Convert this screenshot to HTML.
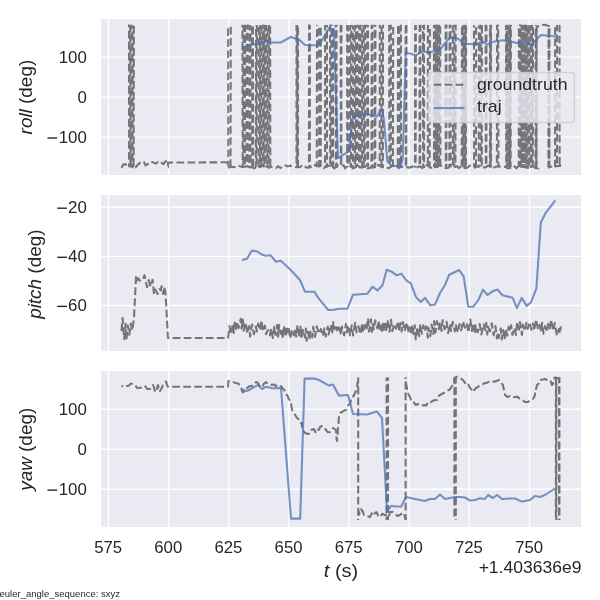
<!DOCTYPE html><html><head><meta charset="utf-8"><style>html,body{margin:0;padding:0;background:#fff;width:600px;height:600px;overflow:hidden}svg{display:block;will-change:transform}</style></head><body><svg width="600" height="600" viewBox="0 0 600 600">
<rect x="0" y="0" width="600" height="600" fill="#ffffff"/>
<rect x="101" y="19" width="480" height="156" fill="#EAEAF2"/>
<line x1="108.50" y1="19" x2="108.50" y2="175" stroke="#fff" stroke-width="1.39"/>
<line x1="168.64" y1="19" x2="168.64" y2="175" stroke="#fff" stroke-width="1.39"/>
<line x1="228.78" y1="19" x2="228.78" y2="175" stroke="#fff" stroke-width="1.39"/>
<line x1="288.93" y1="19" x2="288.93" y2="175" stroke="#fff" stroke-width="1.39"/>
<line x1="349.07" y1="19" x2="349.07" y2="175" stroke="#fff" stroke-width="1.39"/>
<line x1="409.21" y1="19" x2="409.21" y2="175" stroke="#fff" stroke-width="1.39"/>
<line x1="469.36" y1="19" x2="469.36" y2="175" stroke="#fff" stroke-width="1.39"/>
<line x1="529.50" y1="19" x2="529.50" y2="175" stroke="#fff" stroke-width="1.39"/>
<line x1="101" y1="57.10" x2="581" y2="57.10" stroke="#fff" stroke-width="1.39"/>
<line x1="101" y1="97.10" x2="581" y2="97.10" stroke="#fff" stroke-width="1.39"/>
<line x1="101" y1="137.10" x2="581" y2="137.10" stroke="#fff" stroke-width="1.39"/>
<clipPath id="c0"><rect x="101" y="19" width="480" height="156"/></clipPath>
<rect x="101" y="195" width="480" height="156" fill="#EAEAF2"/>
<line x1="108.50" y1="195" x2="108.50" y2="351" stroke="#fff" stroke-width="1.39"/>
<line x1="168.64" y1="195" x2="168.64" y2="351" stroke="#fff" stroke-width="1.39"/>
<line x1="228.78" y1="195" x2="228.78" y2="351" stroke="#fff" stroke-width="1.39"/>
<line x1="288.93" y1="195" x2="288.93" y2="351" stroke="#fff" stroke-width="1.39"/>
<line x1="349.07" y1="195" x2="349.07" y2="351" stroke="#fff" stroke-width="1.39"/>
<line x1="409.21" y1="195" x2="409.21" y2="351" stroke="#fff" stroke-width="1.39"/>
<line x1="469.36" y1="195" x2="469.36" y2="351" stroke="#fff" stroke-width="1.39"/>
<line x1="529.50" y1="195" x2="529.50" y2="351" stroke="#fff" stroke-width="1.39"/>
<line x1="101" y1="207.30" x2="581" y2="207.30" stroke="#fff" stroke-width="1.39"/>
<line x1="101" y1="256.40" x2="581" y2="256.40" stroke="#fff" stroke-width="1.39"/>
<line x1="101" y1="305.50" x2="581" y2="305.50" stroke="#fff" stroke-width="1.39"/>
<clipPath id="c1"><rect x="101" y="195" width="480" height="156"/></clipPath>
<rect x="101" y="371" width="480" height="156" fill="#EAEAF2"/>
<line x1="108.50" y1="371" x2="108.50" y2="527" stroke="#fff" stroke-width="1.39"/>
<line x1="168.64" y1="371" x2="168.64" y2="527" stroke="#fff" stroke-width="1.39"/>
<line x1="228.78" y1="371" x2="228.78" y2="527" stroke="#fff" stroke-width="1.39"/>
<line x1="288.93" y1="371" x2="288.93" y2="527" stroke="#fff" stroke-width="1.39"/>
<line x1="349.07" y1="371" x2="349.07" y2="527" stroke="#fff" stroke-width="1.39"/>
<line x1="409.21" y1="371" x2="409.21" y2="527" stroke="#fff" stroke-width="1.39"/>
<line x1="469.36" y1="371" x2="469.36" y2="527" stroke="#fff" stroke-width="1.39"/>
<line x1="529.50" y1="371" x2="529.50" y2="527" stroke="#fff" stroke-width="1.39"/>
<line x1="101" y1="409.20" x2="581" y2="409.20" stroke="#fff" stroke-width="1.39"/>
<line x1="101" y1="449.20" x2="581" y2="449.20" stroke="#fff" stroke-width="1.39"/>
<line x1="101" y1="489.20" x2="581" y2="489.20" stroke="#fff" stroke-width="1.39"/>
<clipPath id="c2"><rect x="101" y="371" width="480" height="156"/></clipPath>
<g opacity="0.5" stroke="#000" stroke-width="2.08" fill="none" clip-path="url(#c0)"><polyline points="121.50,168.00 123.12,164.68 125.17,164.13 127.06,165.27 128.34,165.78 129.59,165.33 130.88,163.66 132.63,166.81 133.99,163.96 136.01,167.03 137.96,164.36 140.43,162.55 142.74,163.42 144.13,162.52 145.73,165.50 147.17,164.31 149.20,163.18 151.11,161.60 152.39,162.12 154.47,162.92 156.08,163.48 157.87,162.02 160.10,163.60 161.62,162.90 163.50,164.07 165.65,161.22 168.00,165.14 168.00,162.60 226.80,162.30 229.14,167.50 230.94,166.51 232.52,167.17 235.55,166.82 238.80,165.86 241.69,166.90 244.35,166.39 247.53,168.20 249.98,167.16 251.60,167.30 254.39,168.37 257.54,165.75 259.81,167.17 261.35,166.41 263.19,165.13 264.81,167.54 266.57,165.62 268.85,167.92 270.51,166.36 273.11,167.97 276.25,167.90 278.30,166.24 280.52,167.97 283.94,165.26 285.79,165.56 287.76,166.49 290.43,165.67 291.94,166.25 294.18,166.80 297.59,167.25 300.12,166.99 302.97,164.90 306.27,167.59 309.52,167.65 311.80,166.18 313.51,167.05 315.13,164.95 317.05,165.30 319.23,164.89 320.73,165.26 322.44,166.05 323.99,167.94 326.71,165.25 328.72,165.99 330.95,165.15 334.15,168.37 336.58,166.49 338.25,165.08 340.43,165.68 343.59,165.30 345.14,168.22 347.69,165.24 350.28,164.80 352.84,168.32 356.06,167.28 358.09,166.06 359.92,167.56 362.49,167.58 364.64,165.53 367.77,168.34 370.97,167.68 374.11,167.44 376.06,166.62 378.27,164.81 379.83,165.73 381.85,167.26 385.26,166.35 388.64,168.36 392.05,166.05 393.99,165.54 395.88,165.46 398.63,168.03 401.81,166.47 404.61,167.66 406.28,167.14 409.60,167.59 412.60,166.47 414.46,167.62 416.63,167.66 420.07,166.16 422.37,168.20 425.32,165.33 427.08,165.26 430.39,167.68 432.18,167.76 435.64,167.13 437.84,166.73 439.60,164.75 443.04,167.10 445.60,168.15 447.96,167.93 451.12,165.48 453.12,165.78 455.10,166.87 457.12,166.25 458.88,168.07 461.09,166.40 463.76,168.05 466.10,168.10 468.60,166.67 471.15,164.77 473.53,165.38 475.04,167.66 476.88,166.45 479.83,166.76 481.98,166.62 484.59,167.60 486.31,166.77 488.30,165.72 491.35,166.58 493.97,167.51 497.30,166.34 500.02,166.57 502.55,167.26 504.95,166.67 507.41,168.18 510.30,167.94 513.69,165.66 516.31,168.19 519.49,165.21 521.23,166.34 522.88,165.59 524.52,167.18 527.59,168.02 529.40,167.35 532.22,165.23 535.49,168.28 537.42,168.22 536.30,167.20 536.60,27.50 538.00,26.50 541.00,25.20 545.00,24.80 548.80,26.00 549.20,167.20 551.30,166.50 554.28,167.78 556.02,166.30 558.30,165.95 560.09,165.88 560.80,164.77" fill="none" stroke-dasharray="7.7 3.33"/><line x1="129.02" y1="24.61" x2="129.10" y2="167.13" stroke-dasharray="7.7 3.33" stroke-dashoffset="4.86"/><line x1="130.25" y1="25.29" x2="130.54" y2="167.72" stroke-dasharray="7.7 3.33" stroke-dashoffset="0.71"/><line x1="131.34" y1="24.63" x2="131.20" y2="167.71" stroke-dasharray="7.7 3.33" stroke-dashoffset="2.93"/><line x1="132.60" y1="25.24" x2="132.46" y2="167.76" stroke-dasharray="7.7 3.33" stroke-dashoffset="4.66"/><line x1="133.86" y1="25.00" x2="133.61" y2="167.61" stroke-dasharray="7.7 3.33" stroke-dashoffset="10.14"/><line x1="228.12" y1="24.90" x2="228.39" y2="166.79" stroke-dasharray="7.7 3.33" stroke-dashoffset="7.59"/><line x1="230.75" y1="24.66" x2="230.49" y2="167.81" stroke-dasharray="7.7 3.33" stroke-dashoffset="8.84"/><line x1="242.45" y1="24.84" x2="242.70" y2="167.42" stroke-dasharray="7.7 3.33" stroke-dashoffset="5.01"/><line x1="243.63" y1="24.97" x2="243.40" y2="167.01" stroke-dasharray="7.7 3.33" stroke-dashoffset="1.43"/><line x1="245.01" y1="24.74" x2="244.90" y2="167.11" stroke-dasharray="7.7 3.33" stroke-dashoffset="0.56"/><line x1="246.68" y1="24.95" x2="246.59" y2="166.93" stroke-dasharray="7.7 3.33" stroke-dashoffset="3.20"/><line x1="247.81" y1="24.61" x2="247.84" y2="167.65" stroke-dasharray="7.7 3.33" stroke-dashoffset="2.76"/><line x1="249.65" y1="24.93" x2="249.41" y2="167.92" stroke-dasharray="7.7 3.33" stroke-dashoffset="2.09"/><line x1="250.45" y1="25.17" x2="250.45" y2="167.26" stroke-dasharray="7.7 3.33" stroke-dashoffset="2.69"/><line x1="252.15" y1="24.88" x2="252.26" y2="167.36" stroke-dasharray="7.7 3.33" stroke-dashoffset="9.21"/><line x1="252.95" y1="25.29" x2="253.15" y2="167.15" stroke-dasharray="7.7 3.33" stroke-dashoffset="9.81"/><line x1="256.08" y1="24.88" x2="255.82" y2="167.15" stroke-dasharray="7.7 3.33" stroke-dashoffset="7.01"/><line x1="256.85" y1="25.12" x2="256.65" y2="167.03" stroke-dasharray="7.7 3.33" stroke-dashoffset="0.78"/><line x1="258.83" y1="25.21" x2="258.70" y2="167.57" stroke-dasharray="7.7 3.33" stroke-dashoffset="9.28"/><line x1="260.12" y1="24.92" x2="260.09" y2="166.90" stroke-dasharray="7.7 3.33" stroke-dashoffset="3.23"/><line x1="261.35" y1="25.28" x2="261.20" y2="167.41" stroke-dasharray="7.7 3.33" stroke-dashoffset="10.61"/><line x1="262.85" y1="24.85" x2="262.78" y2="166.70" stroke-dasharray="7.7 3.33" stroke-dashoffset="3.41"/><line x1="263.88" y1="24.74" x2="263.58" y2="167.36" stroke-dasharray="7.7 3.33" stroke-dashoffset="5.55"/><line x1="265.02" y1="24.88" x2="264.73" y2="166.75" stroke-dasharray="7.7 3.33" stroke-dashoffset="0.99"/><line x1="266.26" y1="25.01" x2="266.41" y2="167.39" stroke-dasharray="7.7 3.33" stroke-dashoffset="2.57"/><line x1="267.62" y1="25.22" x2="267.51" y2="167.21" stroke-dasharray="7.7 3.33" stroke-dashoffset="7.90"/><line x1="268.97" y1="25.11" x2="268.70" y2="167.54" stroke-dasharray="7.7 3.33" stroke-dashoffset="1.65"/><line x1="270.13" y1="25.04" x2="270.32" y2="167.65" stroke-dasharray="7.7 3.33" stroke-dashoffset="9.84"/><line x1="296.50" y1="24.97" x2="296.50" y2="167.36" stroke-dasharray="7.7 3.33" stroke-dashoffset="1.54"/><line x1="297.25" y1="25.16" x2="297.25" y2="167.77" stroke-dasharray="7.7 3.33" stroke-dashoffset="5.24"/><line x1="298.00" y1="25.22" x2="298.00" y2="167.59" stroke-dasharray="7.7 3.33" stroke-dashoffset="8.94"/><line x1="309.05" y1="24.62" x2="308.97" y2="166.87" stroke-dasharray="7.7 3.33" stroke-dashoffset="2.54"/><line x1="309.85" y1="24.67" x2="309.89" y2="167.79" stroke-dasharray="7.7 3.33" stroke-dashoffset="3.14"/><line x1="317.05" y1="25.08" x2="316.75" y2="167.34" stroke-dasharray="7.7 3.33" stroke-dashoffset="6.91"/><line x1="319.12" y1="24.95" x2="319.21" y2="167.40" stroke-dasharray="7.7 3.33" stroke-dashoffset="8.25"/><line x1="320.83" y1="24.78" x2="320.69" y2="166.80" stroke-dasharray="7.7 3.33" stroke-dashoffset="8.13"/><line x1="325.09" y1="25.12" x2="325.09" y2="167.97" stroke-dasharray="7.7 3.33" stroke-dashoffset="2.26"/><line x1="326.95" y1="25.08" x2="327.02" y2="167.70" stroke-dasharray="7.7 3.33" stroke-dashoffset="5.28"/><line x1="330.06" y1="24.70" x2="330.20" y2="167.03" stroke-dasharray="7.7 3.33" stroke-dashoffset="0.85"/><line x1="331.42" y1="24.61" x2="331.28" y2="166.78" stroke-dasharray="7.7 3.33" stroke-dashoffset="6.26"/><line x1="333.07" y1="25.07" x2="333.08" y2="167.08" stroke-dasharray="7.7 3.33" stroke-dashoffset="7.63"/><line x1="335.65" y1="24.93" x2="335.89" y2="166.85" stroke-dasharray="7.7 3.33" stroke-dashoffset="5.13"/><line x1="336.45" y1="24.74" x2="336.71" y2="167.97" stroke-dasharray="7.7 3.33" stroke-dashoffset="5.73"/><line x1="340.65" y1="24.92" x2="340.93" y2="167.77" stroke-dasharray="7.7 3.33" stroke-dashoffset="0.19"/><line x1="341.45" y1="24.91" x2="341.28" y2="167.05" stroke-dasharray="7.7 3.33" stroke-dashoffset="0.79"/><line x1="347.18" y1="25.01" x2="347.19" y2="166.88" stroke-dasharray="7.7 3.33" stroke-dashoffset="2.32"/><line x1="348.18" y1="25.17" x2="348.41" y2="167.36" stroke-dasharray="7.7 3.33" stroke-dashoffset="1.46"/><line x1="350.08" y1="25.23" x2="349.80" y2="167.33" stroke-dasharray="7.7 3.33" stroke-dashoffset="2.55"/><line x1="351.30" y1="24.92" x2="351.09" y2="167.09" stroke-dasharray="7.7 3.33" stroke-dashoffset="5.42"/><line x1="352.94" y1="25.19" x2="353.09" y2="166.70" stroke-dasharray="7.7 3.33" stroke-dashoffset="3.49"/><line x1="354.64" y1="25.25" x2="354.88" y2="167.63" stroke-dasharray="7.7 3.33" stroke-dashoffset="1.32"/><line x1="355.92" y1="24.88" x2="355.97" y2="168.00" stroke-dasharray="7.7 3.33" stroke-dashoffset="4.11"/><line x1="357.44" y1="24.79" x2="357.21" y2="166.76" stroke-dasharray="7.7 3.33" stroke-dashoffset="4.72"/><line x1="359.13" y1="25.25" x2="358.99" y2="167.02" stroke-dasharray="7.7 3.33" stroke-dashoffset="3.15"/><line x1="360.50" y1="24.86" x2="360.73" y2="167.94" stroke-dasharray="7.7 3.33" stroke-dashoffset="2.09"/><line x1="362.12" y1="25.24" x2="362.15" y2="167.92" stroke-dasharray="7.7 3.33" stroke-dashoffset="6.96"/><line x1="363.59" y1="25.11" x2="363.74" y2="167.29" stroke-dasharray="7.7 3.33" stroke-dashoffset="0.55"/><line x1="365.06" y1="24.63" x2="364.83" y2="167.90" stroke-dasharray="7.7 3.33" stroke-dashoffset="3.16"/><line x1="367.15" y1="24.84" x2="367.29" y2="167.09" stroke-dasharray="7.7 3.33" stroke-dashoffset="5.21"/><line x1="367.95" y1="25.28" x2="368.04" y2="167.04" stroke-dasharray="7.7 3.33" stroke-dashoffset="5.81"/><line x1="371.65" y1="24.99" x2="371.45" y2="167.21" stroke-dasharray="7.7 3.33" stroke-dashoffset="3.32"/><line x1="372.45" y1="24.71" x2="372.69" y2="166.97" stroke-dasharray="7.7 3.33" stroke-dashoffset="3.92"/><line x1="374.65" y1="24.75" x2="374.95" y2="167.88" stroke-dasharray="7.7 3.33" stroke-dashoffset="5.48"/><line x1="375.45" y1="24.91" x2="375.27" y2="166.88" stroke-dasharray="7.7 3.33" stroke-dashoffset="6.08"/><line x1="379.84" y1="24.66" x2="379.69" y2="167.01" stroke-dasharray="7.7 3.33" stroke-dashoffset="3.77"/><line x1="381.53" y1="25.12" x2="381.48" y2="167.24" stroke-dasharray="7.7 3.33" stroke-dashoffset="9.79"/><line x1="383.01" y1="24.84" x2="382.88" y2="166.78" stroke-dasharray="7.7 3.33" stroke-dashoffset="4.16"/><line x1="389.19" y1="24.95" x2="389.40" y2="167.52" stroke-dasharray="7.7 3.33" stroke-dashoffset="1.39"/><line x1="390.89" y1="24.77" x2="390.85" y2="167.22" stroke-dasharray="7.7 3.33" stroke-dashoffset="2.99"/><line x1="393.18" y1="25.21" x2="392.90" y2="166.73" stroke-dasharray="7.7 3.33" stroke-dashoffset="9.36"/><line x1="398.08" y1="24.93" x2="397.78" y2="167.46" stroke-dasharray="7.7 3.33" stroke-dashoffset="9.88"/><line x1="399.46" y1="25.18" x2="399.74" y2="167.81" stroke-dasharray="7.7 3.33" stroke-dashoffset="10.22"/><line x1="400.90" y1="24.71" x2="401.01" y2="167.38" stroke-dasharray="7.7 3.33" stroke-dashoffset="1.20"/><line x1="405.65" y1="25.11" x2="405.81" y2="167.54" stroke-dasharray="7.7 3.33" stroke-dashoffset="10.38"/><line x1="406.45" y1="24.92" x2="406.17" y2="167.42" stroke-dasharray="7.7 3.33" stroke-dashoffset="10.98"/><line x1="415.11" y1="25.24" x2="415.00" y2="167.54" stroke-dasharray="7.7 3.33" stroke-dashoffset="2.57"/><line x1="415.85" y1="25.05" x2="415.62" y2="167.61" stroke-dasharray="7.7 3.33" stroke-dashoffset="2.78"/><line x1="419.65" y1="24.97" x2="419.58" y2="167.46" stroke-dasharray="7.7 3.33" stroke-dashoffset="0.78"/><line x1="420.45" y1="24.76" x2="420.16" y2="167.48" stroke-dasharray="7.7 3.33" stroke-dashoffset="1.38"/><line x1="422.92" y1="25.27" x2="423.15" y2="167.54" stroke-dasharray="7.7 3.33" stroke-dashoffset="5.08"/><line x1="423.99" y1="24.77" x2="424.11" y2="167.95" stroke-dasharray="7.7 3.33" stroke-dashoffset="2.59"/><line x1="427.92" y1="24.95" x2="427.87" y2="167.58" stroke-dasharray="7.7 3.33" stroke-dashoffset="0.24"/><line x1="429.90" y1="25.25" x2="429.62" y2="166.99" stroke-dasharray="7.7 3.33" stroke-dashoffset="7.36"/><line x1="433.94" y1="25.08" x2="434.11" y2="166.96" stroke-dasharray="7.7 3.33" stroke-dashoffset="4.64"/><line x1="435.10" y1="24.74" x2="434.98" y2="167.96" stroke-dasharray="7.7 3.33" stroke-dashoffset="5.57"/><line x1="436.13" y1="24.76" x2="436.00" y2="167.69" stroke-dasharray="7.7 3.33" stroke-dashoffset="2.55"/><line x1="437.18" y1="24.73" x2="437.13" y2="166.99" stroke-dasharray="7.7 3.33" stroke-dashoffset="5.47"/><line x1="438.07" y1="24.70" x2="437.89" y2="167.21" stroke-dasharray="7.7 3.33" stroke-dashoffset="10.46"/><line x1="439.19" y1="24.64" x2="439.13" y2="166.78" stroke-dasharray="7.7 3.33" stroke-dashoffset="1.57"/><line x1="440.16" y1="25.11" x2="440.42" y2="168.00" stroke-dasharray="7.7 3.33" stroke-dashoffset="9.75"/><line x1="445.65" y1="24.73" x2="445.80" y2="167.92" stroke-dasharray="7.7 3.33" stroke-dashoffset="3.63"/><line x1="446.45" y1="24.62" x2="446.38" y2="167.56" stroke-dasharray="7.7 3.33" stroke-dashoffset="4.23"/><line x1="449.65" y1="24.83" x2="449.35" y2="166.92" stroke-dasharray="7.7 3.33" stroke-dashoffset="4.12"/><line x1="450.45" y1="24.80" x2="450.72" y2="167.16" stroke-dasharray="7.7 3.33" stroke-dashoffset="4.72"/><line x1="452.85" y1="24.75" x2="453.04" y2="167.16" stroke-dasharray="7.7 3.33" stroke-dashoffset="10.64"/><line x1="454.38" y1="24.63" x2="454.30" y2="167.32" stroke-dasharray="7.7 3.33" stroke-dashoffset="4.77"/><line x1="455.67" y1="24.85" x2="455.39" y2="167.87" stroke-dasharray="7.7 3.33" stroke-dashoffset="2.13"/><line x1="461.96" y1="25.14" x2="461.69" y2="166.75" stroke-dasharray="7.7 3.33" stroke-dashoffset="8.95"/><line x1="462.63" y1="24.78" x2="462.86" y2="167.67" stroke-dasharray="7.7 3.33" stroke-dashoffset="10.15"/><line x1="463.54" y1="25.27" x2="463.39" y2="167.50" stroke-dasharray="7.7 3.33" stroke-dashoffset="3.00"/><line x1="464.49" y1="24.79" x2="464.64" y2="166.70" stroke-dasharray="7.7 3.33" stroke-dashoffset="3.49"/><line x1="465.37" y1="25.26" x2="465.21" y2="166.73" stroke-dasharray="7.7 3.33" stroke-dashoffset="6.99"/><line x1="465.99" y1="25.27" x2="465.84" y2="167.20" stroke-dasharray="7.7 3.33" stroke-dashoffset="10.55"/><line x1="473.97" y1="25.25" x2="474.15" y2="166.94" stroke-dasharray="7.7 3.33" stroke-dashoffset="5.44"/><line x1="476.10" y1="25.14" x2="475.99" y2="167.49" stroke-dasharray="7.7 3.33" stroke-dashoffset="9.07"/><line x1="478.93" y1="25.15" x2="478.75" y2="166.80" stroke-dasharray="7.7 3.33" stroke-dashoffset="3.99"/><line x1="480.60" y1="24.65" x2="480.63" y2="166.74" stroke-dasharray="7.7 3.33" stroke-dashoffset="2.73"/><line x1="481.93" y1="25.22" x2="481.79" y2="167.98" stroke-dasharray="7.7 3.33" stroke-dashoffset="10.81"/><line x1="485.65" y1="24.67" x2="485.78" y2="167.35" stroke-dasharray="7.7 3.33" stroke-dashoffset="0.93"/><line x1="486.45" y1="24.91" x2="486.40" y2="167.00" stroke-dasharray="7.7 3.33" stroke-dashoffset="1.53"/><line x1="490.00" y1="25.07" x2="490.00" y2="167.67" stroke-dasharray="7.7 3.33" stroke-dashoffset="6.84"/><line x1="490.50" y1="25.07" x2="490.50" y2="166.86" stroke-dasharray="7.7 3.33" stroke-dashoffset="10.54"/><line x1="491.00" y1="24.81" x2="491.00" y2="167.44" stroke-dasharray="7.7 3.33" stroke-dashoffset="14.24"/><line x1="497.10" y1="24.77" x2="496.89" y2="167.02" stroke-dasharray="7.7 3.33" stroke-dashoffset="2.20"/><line x1="498.15" y1="24.83" x2="498.45" y2="167.21" stroke-dasharray="7.7 3.33" stroke-dashoffset="6.38"/><line x1="506.00" y1="25.17" x2="506.30" y2="167.55" stroke-dasharray="7.7 3.33" stroke-dashoffset="2.55"/><line x1="506.67" y1="25.17" x2="506.92" y2="167.79" stroke-dasharray="7.7 3.33" stroke-dashoffset="5.24"/><line x1="507.48" y1="24.68" x2="507.77" y2="166.95" stroke-dasharray="7.7 3.33" stroke-dashoffset="3.24"/><line x1="508.53" y1="24.86" x2="508.50" y2="167.83" stroke-dasharray="7.7 3.33" stroke-dashoffset="10.26"/><line x1="509.24" y1="25.26" x2="509.30" y2="166.84" stroke-dasharray="7.7 3.33" stroke-dashoffset="8.58"/><line x1="510.21" y1="24.86" x2="510.04" y2="166.88" stroke-dasharray="7.7 3.33" stroke-dashoffset="2.40"/><line x1="510.90" y1="25.06" x2="510.61" y2="166.96" stroke-dasharray="7.7 3.33" stroke-dashoffset="6.61"/><line x1="518.93" y1="24.73" x2="518.75" y2="167.11" stroke-dasharray="7.7 3.33" stroke-dashoffset="7.48"/><line x1="519.99" y1="24.64" x2="519.93" y2="166.83" stroke-dasharray="7.7 3.33" stroke-dashoffset="6.04"/><line x1="520.77" y1="24.66" x2="520.89" y2="166.91" stroke-dasharray="7.7 3.33" stroke-dashoffset="7.05"/><line x1="521.59" y1="24.82" x2="521.48" y2="167.94" stroke-dasharray="7.7 3.33" stroke-dashoffset="3.12"/><line x1="522.53" y1="24.89" x2="522.82" y2="167.82" stroke-dasharray="7.7 3.33" stroke-dashoffset="3.94"/><line x1="523.32" y1="25.11" x2="523.02" y2="166.96" stroke-dasharray="7.7 3.33" stroke-dashoffset="2.18"/><line x1="524.41" y1="25.17" x2="524.64" y2="167.23" stroke-dasharray="7.7 3.33" stroke-dashoffset="4.67"/><line x1="525.11" y1="24.61" x2="525.19" y2="167.42" stroke-dasharray="7.7 3.33" stroke-dashoffset="1.79"/><line x1="526.16" y1="25.04" x2="526.17" y2="167.18" stroke-dasharray="7.7 3.33" stroke-dashoffset="0.98"/><line x1="526.73" y1="24.96" x2="526.50" y2="167.90" stroke-dasharray="7.7 3.33" stroke-dashoffset="3.12"/><line x1="527.75" y1="25.28" x2="527.52" y2="166.96" stroke-dasharray="7.7 3.33" stroke-dashoffset="8.88"/><line x1="528.80" y1="24.94" x2="529.06" y2="166.77" stroke-dasharray="7.7 3.33" stroke-dashoffset="10.76"/><line x1="529.46" y1="25.03" x2="529.25" y2="167.77" stroke-dasharray="7.7 3.33" stroke-dashoffset="9.97"/><line x1="530.49" y1="24.88" x2="530.69" y2="167.80" stroke-dasharray="7.7 3.33" stroke-dashoffset="2.45"/><line x1="531.12" y1="24.88" x2="531.05" y2="167.37" stroke-dasharray="7.7 3.33" stroke-dashoffset="2.41"/><line x1="531.97" y1="25.11" x2="531.70" y2="167.87" stroke-dasharray="7.7 3.33" stroke-dashoffset="2.73"/><line x1="533.02" y1="24.63" x2="532.80" y2="167.79" stroke-dasharray="7.7 3.33" stroke-dashoffset="8.35"/><line x1="535.65" y1="24.99" x2="535.53" y2="167.52" stroke-dasharray="7.7 3.33" stroke-dashoffset="6.61"/><line x1="536.45" y1="24.89" x2="536.41" y2="167.46" stroke-dasharray="7.7 3.33" stroke-dashoffset="7.21"/><line x1="548.65" y1="24.91" x2="548.36" y2="167.27" stroke-dasharray="7.7 3.33" stroke-dashoffset="7.27"/><line x1="549.45" y1="25.03" x2="549.29" y2="167.34" stroke-dasharray="7.7 3.33" stroke-dashoffset="7.87"/><line x1="555.11" y1="24.92" x2="555.09" y2="166.93" stroke-dasharray="7.7 3.33" stroke-dashoffset="8.60"/><line x1="557.09" y1="24.90" x2="557.06" y2="166.82" stroke-dasharray="7.7 3.33" stroke-dashoffset="1.42"/><line x1="559.50" y1="25.05" x2="559.64" y2="166.81" stroke-dasharray="7.7 3.33" stroke-dashoffset="0.45"/></g>
<polyline points="241.70,49.70 251.70,43.30 255.80,44.70 264.20,41.30 270.80,42.50 280.80,42.50 290.80,37.00 299.20,39.70 305.00,45.00 316.70,45.30 321.70,40.80 329.20,28.00 333.90,29.30 338.00,158.00 348.70,151.30 352.70,117.30 367.30,114.00 376.70,116.70 381.70,109.00 384.00,120.00 387.30,161.30 392.00,166.00 400.70,166.00 402.70,158.70 405.80,52.50 415.80,55.30 421.70,51.30 429.20,52.50 440.00,49.20 450.00,37.50 458.30,38.70 464.20,43.80 476.70,44.20 482.50,41.30 487.50,44.70 493.30,41.70 502.50,40.30 511.70,41.70 517.00,43.00 521.00,41.50 531.00,44.50 541.00,35.00 556.00,36.50" fill="none" stroke="#4C72B0" stroke-opacity="0.75" stroke-width="2.08" stroke-linejoin="round" stroke-linecap="butt" clip-path="url(#c0)"/>
<polyline points="121.50,331.00 122.60,318.13 124.20,339.24 125.56,323.90 126.32,340.00 127.88,325.58 129.29,334.82 130.68,323.61 132.21,330.50 134.00,318.00 136.00,277.00 136.50,281.00 138.27,278.07 139.61,280.66 141.27,279.58 142.94,279.80 144.48,275.14 147.00,287.12 148.73,280.12 150.54,286.76 152.61,279.79 153.99,294.00 155.50,289.68 157.61,294.00 159.43,289.15 160.73,290.27 161.58,286.29 163.21,294.00 164.22,286.84 165.50,293.00 168.00,338.00 228.00,338.00 228.50,335.37 229.41,326.14 231.04,334.33 232.73,324.10 233.84,332.95 234.74,322.60 236.09,328.99 236.86,321.59 238.58,328.13 240.73,318.78 241.55,328.70 242.91,319.66 243.68,330.81 245.84,322.78 247.35,333.50 249.32,326.07 250.14,336.63 252.07,324.63 253.93,334.17 255.80,326.49 256.89,331.47 258.15,323.57 259.96,330.08 261.55,320.38 262.69,331.40 264.89,325.64 266.03,334.18 267.90,329.96 269.97,335.36 271.08,328.34 272.82,338.01 274.28,326.76 275.68,335.30 277.29,324.80 278.16,336.69 279.12,325.01 280.39,333.66 281.18,328.37 282.98,338.58 283.83,325.76 285.81,336.33 286.66,326.35 287.57,332.40 288.48,326.89 290.19,338.45 291.88,329.70 293.77,335.30 295.00,328.57 296.17,336.72 297.47,325.19 299.50,337.93 300.30,325.69 301.57,336.95 303.12,329.75 305.10,337.57 305.86,328.44 306.61,340.81 308.10,331.66 309.37,339.66 310.51,331.56 312.31,337.51 313.23,326.76 315.02,336.91 316.71,326.35 318.80,333.63 320.88,328.94 322.98,336.10 324.30,328.34 325.85,336.56 327.73,326.59 328.71,334.56 330.46,324.88 332.37,332.54 333.30,321.92 334.34,329.74 336.15,324.74 337.27,330.38 338.80,325.27 341.01,334.77 341.92,326.53 344.14,335.51 345.99,324.05 346.90,332.30 348.24,325.46 350.03,335.35 351.72,325.32 353.08,335.46 355.19,322.80 356.57,332.24 358.41,326.16 360.44,334.18 362.15,323.06 363.05,332.36 364.97,325.05 366.35,330.17 368.04,318.45 369.06,331.58 370.98,319.28 371.79,331.85 372.78,324.18 373.68,329.48 375.24,320.36 377.23,328.31 378.60,320.79 379.94,331.47 380.87,325.85 382.03,331.89 382.80,321.75 384.08,331.24 385.17,323.75 386.25,330.11 387.58,319.98 389.55,331.72 391.00,319.88 392.28,331.13 394.26,324.20 395.83,328.66 397.83,321.57 399.15,331.02 400.54,322.97 401.71,331.57 402.91,322.13 404.65,331.17 406.79,322.48 408.90,333.47 409.86,327.28 410.63,333.63 412.36,325.07 413.46,334.17 414.73,325.25 415.74,339.44 417.40,327.30 419.33,336.18 420.38,324.26 421.78,333.69 423.37,325.30 424.86,331.51 426.31,326.25 427.87,337.67 428.63,327.91 430.37,336.24 431.69,324.48 433.39,334.01 434.19,321.16 435.43,332.54 436.95,321.13 438.77,329.30 440.03,322.13 441.57,331.02 442.64,320.14 444.63,329.29 446.62,321.79 448.13,333.12 449.86,324.13 451.06,331.05 452.76,321.75 454.84,331.35 455.66,324.44 457.80,332.48 459.53,324.14 461.21,330.36 463.00,321.25 464.75,327.62 466.65,323.17 468.56,332.63 470.29,319.42 471.89,330.94 473.09,322.92 474.80,334.09 475.63,325.23 477.60,332.37 479.73,324.09 481.36,334.36 483.59,324.30 485.30,330.30 486.28,322.80 487.21,334.47 488.10,326.87 489.92,331.43 491.77,323.27 493.59,335.17 495.44,326.12 496.88,338.36 498.01,332.24 498.78,337.88 500.76,328.39 501.76,339.57 503.24,329.93 504.65,339.34 505.61,329.15 507.31,335.75 508.64,326.89 510.24,331.50 511.08,325.16 512.33,334.97 514.54,327.85 515.93,335.05 517.25,322.23 519.21,329.69 519.96,322.15 521.94,334.84 522.75,324.52 524.36,330.94 526.39,322.75 527.66,329.01 529.24,322.05 531.38,329.72 533.04,323.45 534.18,330.57 536.11,319.56 538.02,329.01 539.64,324.86 541.11,331.85 542.14,322.78 543.43,333.62 544.79,326.11 547.03,332.00 547.94,323.97 549.59,328.49 551.12,319.61 553.17,330.80 554.77,322.98 556.94,335.47 558.92,329.02 559.97,333.39 560.84,326.48" fill="none" stroke="#000000" stroke-opacity="0.5" stroke-width="2.08" stroke-linejoin="round" stroke-linecap="butt" stroke-dasharray="7.7 3.33" clip-path="url(#c1)"/>
<polyline points="242.00,260.00 247.00,258.80 251.70,250.80 256.70,251.20 261.70,254.50 265.80,255.80 270.80,255.30 275.80,261.70 280.80,260.80 290.00,269.20 300.00,280.00 305.00,291.70 314.20,291.70 319.20,299.20 328.30,310.00 334.20,309.70 338.30,308.70 347.50,308.70 353.00,294.70 367.50,293.70 372.50,286.70 377.50,290.50 382.50,285.30 386.70,269.70 391.70,271.70 396.70,275.30 401.30,273.70 406.30,280.30 410.80,283.30 415.80,296.70 420.80,302.00 425.00,297.80 430.30,305.30 435.00,304.50 440.00,293.00 445.00,285.00 449.20,274.70 459.20,270.00 463.70,276.70 468.30,306.70 473.30,306.70 478.30,300.00 483.00,289.70 487.50,295.00 492.50,291.30 497.50,289.50 502.50,295.30 512.60,297.70 516.90,308.10 521.70,297.90 526.70,305.90 531.00,302.20 536.40,288.60 540.80,222.50 545.70,212.80 555.30,200.40" fill="none" stroke="#4C72B0" stroke-opacity="0.75" stroke-width="2.08" stroke-linejoin="round" stroke-linecap="butt" clip-path="url(#c1)"/>
<g opacity="0.5" stroke="#000" stroke-width="2.08" fill="none" stroke-linejoin="round" clip-path="url(#c2)"><polyline points="121.50,385.80 124.52,387.21 127.00,386.00 128.74,385.65 130.94,383.45 133.00,384.00 135.28,385.22 137.00,388.00 139.04,387.95 141.27,387.54 142.94,386.33 145.00,386.00 147.30,388.99 150.00,389.00 151.80,386.11 153.00,385.00 153.72,386.55 154.91,390.96 156.00,392.00 156.91,390.75 157.06,388.25 158.00,385.00 158.79,387.47 159.62,387.58 160.00,391.00 160.79,389.48 162.26,386.90 163.00,384.00 166.00,381.50 166.88,384.39 168.00,386.70 228.00,386.70 228.40,382.59 228.50,381.00 232.00,381.00 235.00,383.00 237.39,383.22 240.00,385.00 240.52,386.82 241.30,387.91 242.04,391.19 243.00,392.50 244.04,391.70 245.48,388.02 247.00,388.00 249.76,386.11 252.00,386.00 254.26,385.17 256.00,382.00 257.57,382.51 258.64,384.04 260.00,387.00 262.26,386.43 264.08,383.51 266.00,382.00 267.90,384.03 269.99,384.41 272.00,385.00 273.79,384.36 275.73,386.18 278.03,384.61 280.00,386.00 281.72,386.75 283.00,389.00 284.28,389.90 285.53,394.09 287.00,395.00 287.65,395.94 288.49,398.42 289.49,399.77 290.00,403.00 291.04,403.83 291.74,408.04 292.08,409.68 293.00,412.00 294.21,413.22 295.49,415.57 297.00,418.00 300.00,420.00 301.04,423.59 301.76,422.71 302.12,427.27 303.00,428.00 303.73,431.22 305.00,433.00 308.00,434.00 309.38,433.53 311.00,430.00 314.00,429.00 315.21,431.98 317.00,433.00 317.90,429.85 318.70,430.06 320.00,427.00 322.00,426.00 324.02,426.99 326.00,430.00 327.96,432.32 330.00,432.00 331.33,430.23 333.00,428.00 336.00,430.00 335.98,431.18 336.56,435.08 336.42,435.25 336.55,439.15 337.00,441.00 337.16,438.19 337.16,437.19 337.62,435.75 337.72,431.71 337.57,431.33 337.94,429.21 337.90,427.41 338.23,425.43 338.72,422.23 338.38,421.48 338.82,419.27 339.00,416.00 340.36,413.00 342.00,412.00 344.20,410.57 346.00,410.00 347.13,407.59 348.72,404.41 350.00,404.00 350.68,401.49 351.34,398.12 352.00,397.00 353.63,396.01 355.00,393.00 356.22,389.93 357.00,388.00 357.33,385.52 357.55,382.40 357.82,383.15 357.80,379.64 358.00,377.50" stroke-dasharray="7.7 3.33" stroke-dashoffset="5.84"/><polyline points="358.00,520.00 358.42,515.12 359.08,514.34 359.01,511.62 359.45,513.90 360.00,510.00 361.05,509.25 362.79,511.50 364.00,515.00 365.71,516.26 368.05,516.47 370.00,517.00 371.79,513.28 373.56,515.64 375.00,513.00 376.39,512.07 378.33,515.67 380.00,517.00 382.37,513.73 385.00,515.00 386.09,515.32 387.30,520.00" stroke-dasharray="7.7 3.33" stroke-dashoffset="6.51"/><polyline points="387.30,520.00 388.19,515.88 388.69,517.48 389.12,515.96 390.00,512.00 392.76,511.83 395.00,513.00 397.45,516.04 400.00,515.00 402.02,513.37 404.00,513.00 404.80,516.99 404.97,516.11 405.60,520.00" stroke-dasharray="7.7 3.33" stroke-dashoffset="3.69"/><polyline points="405.60,377.50 405.76,381.79 406.00,383.00 406.58,386.32 406.99,388.11 406.93,389.06 407.87,392.39 408.00,393.00 408.85,395.08 410.08,397.23 411.00,400.00 412.69,400.29 414.29,403.35 416.00,405.00 417.71,403.85 420.28,405.89 422.26,405.43 424.00,405.00 426.19,405.56 428.23,402.18 430.00,403.00 432.08,401.25 434.11,400.27 436.00,400.00 437.36,399.69 438.74,395.87 440.00,395.00 442.01,393.79 444.00,393.00 446.77,390.82 449.00,390.00 450.22,388.81 451.44,386.97 453.00,385.00 453.94,382.54 454.19,379.89 455.00,377.50 457.52,376.62 460.00,378.00 463.00,380.00 465.00,383.00 467.00,382.00 467.77,382.82 468.88,385.70 470.00,388.00 471.37,389.18 473.00,392.00 474.25,390.15 476.00,388.00 478.20,386.85 480.00,385.00 482.54,384.48 485.00,383.00 487.32,382.67 490.00,381.00 492.48,381.45 495.00,381.60 497.07,380.70 499.00,380.00 500.22,380.84 501.50,383.37 503.00,385.00 503.33,387.27 503.51,388.53 504.42,390.16 504.63,392.97 505.00,395.00 507.37,397.06 510.00,396.00 512.38,397.37 515.00,397.00 517.30,396.61 520.00,399.00 522.72,400.31 525.00,402.00 528.00,402.00 529.74,400.64 532.00,400.00 533.46,398.25 535.00,395.00 535.17,392.12 536.08,391.76 535.99,388.48 536.51,387.56 537.00,385.00 538.57,383.62 540.00,380.00 542.69,379.56 545.00,379.00 547.64,380.28 550.00,380.00 551.16,382.42 552.00,385.00 552.92,383.79 553.75,380.06 554.47,377.79 555.00,377.50 557.16,377.77 559.00,378.98 561.00,377.50" stroke-dasharray="7.7 3.33" stroke-dashoffset="6.29"/><line x1="358.20" y1="377.5" x2="358.20" y2="520" stroke-dasharray="7.7 3.33" stroke-dashoffset="2.00"/><line x1="386.60" y1="377.5" x2="386.60" y2="520" stroke-dasharray="7.7 3.33" stroke-dashoffset="4.00"/><line x1="388.00" y1="377.5" x2="388.00" y2="520" stroke-dasharray="7.7 3.33" stroke-dashoffset="4.80"/><line x1="405.60" y1="377.5" x2="405.60" y2="520" stroke-dasharray="7.7 3.33" stroke-dashoffset="7.00"/><line x1="454.40" y1="377.5" x2="454.40" y2="520" stroke-dasharray="7.7 3.33" stroke-dashoffset="1.00"/><line x1="455.80" y1="377.5" x2="455.80" y2="520" stroke-dasharray="7.7 3.33" stroke-dashoffset="1.60"/><line x1="555.90" y1="377.5" x2="555.90" y2="520" stroke-dasharray="7.7 3.33" stroke-dashoffset="0.00"/><line x1="556.30" y1="377.5" x2="556.30" y2="520" stroke-dasharray="7.7 3.33" stroke-dashoffset="5.50"/><line x1="559.00" y1="377.5" x2="559.00" y2="520" stroke-dasharray="7.7 3.33" stroke-dashoffset="2.00"/><line x1="559.40" y1="377.5" x2="559.40" y2="520" stroke-dasharray="7.7 3.33" stroke-dashoffset="2.30"/></g>
<polyline points="242.00,389.50 247.00,391.00 258.00,385.00 262.00,389.00 266.00,386.70 272.00,388.30 281.00,388.00 291.00,518.60 300.20,518.60 304.60,378.60 314.60,378.60 319.00,380.00 329.00,385.60 333.00,384.60 339.00,395.60 348.00,395.00 353.00,414.00 367.00,414.50 377.00,411.60 382.00,418.00 387.00,511.20 391.00,506.00 401.00,506.70 406.00,497.00 420.00,500.00 425.00,501.00 430.00,499.00 435.00,499.00 440.00,494.50 445.00,499.00 450.00,498.00 455.00,497.00 460.00,497.00 465.00,497.50 470.00,500.50 475.00,500.00 480.00,498.30 485.00,499.00 488.00,495.00 493.00,498.00 497.00,495.00 502.00,499.00 510.00,498.50 515.00,498.50 522.00,501.60 530.00,500.00 535.00,496.00 540.00,497.00 545.00,495.00 555.00,488.50" fill="none" stroke="#4C72B0" stroke-opacity="0.75" stroke-width="2.08" stroke-linejoin="round" stroke-linecap="butt" clip-path="url(#c2)"/>
<rect x="428.2" y="72.5" width="146.2" height="50" rx="3" ry="3" fill="#EAEAF2" fill-opacity="0.8" stroke="#cccccc" stroke-opacity="0.8" stroke-width="1.39"/>
<line x1="433.5" y1="84.8" x2="464.5" y2="84.8" stroke="#000000" stroke-opacity="0.5" stroke-width="2.08" stroke-dasharray="7.7 3.33"/>
<line x1="433.5" y1="108" x2="464.5" y2="108" stroke="#4C72B0" stroke-opacity="0.75" stroke-width="2.08"/>
<text x="0" y="0" font-size="16.4" fill="#262626" text-anchor="start" style="font-family:'Liberation Sans',sans-serif" transform="translate(477.00,89.80) scale(1.08,1)" >groundtruth</text>
<text x="0" y="0" font-size="16.4" fill="#262626" text-anchor="start" style="font-family:'Liberation Sans',sans-serif" transform="translate(477.00,111.80) scale(1.08,1)" >traj</text>
<text x="0" y="0" font-size="16.4" fill="#262626" text-anchor="end" style="font-family:'Liberation Sans',sans-serif" transform="translate(86.80,62.90) scale(1.03,1)" >100</text>
<text x="0" y="0" font-size="16.4" fill="#262626" text-anchor="end" style="font-family:'Liberation Sans',sans-serif" transform="translate(86.80,102.90) scale(1.03,1)" >0</text>
<text x="0" y="0" font-size="16.4" fill="#262626" text-anchor="end" style="font-family:'Liberation Sans',sans-serif" transform="translate(86.80,142.90) scale(1.03,1)" >100</text>
<rect x="47.5" y="137.30" width="9.6" height="1.4" fill="#262626"/>
<text x="0" y="0" font-size="16.4" fill="#262626" text-anchor="end" style="font-family:'Liberation Sans',sans-serif" transform="translate(86.80,213.10) scale(1.03,1)" >20</text>
<rect x="57.3" y="207.50" width="9.6" height="1.4" fill="#262626"/>
<text x="0" y="0" font-size="16.4" fill="#262626" text-anchor="end" style="font-family:'Liberation Sans',sans-serif" transform="translate(86.80,262.20) scale(1.03,1)" >40</text>
<rect x="57.3" y="256.60" width="9.6" height="1.4" fill="#262626"/>
<text x="0" y="0" font-size="16.4" fill="#262626" text-anchor="end" style="font-family:'Liberation Sans',sans-serif" transform="translate(86.80,311.30) scale(1.03,1)" >60</text>
<rect x="57.3" y="305.70" width="9.6" height="1.4" fill="#262626"/>
<text x="0" y="0" font-size="16.4" fill="#262626" text-anchor="end" style="font-family:'Liberation Sans',sans-serif" transform="translate(86.80,415.00) scale(1.03,1)" >100</text>
<text x="0" y="0" font-size="16.4" fill="#262626" text-anchor="end" style="font-family:'Liberation Sans',sans-serif" transform="translate(86.80,455.00) scale(1.03,1)" >0</text>
<text x="0" y="0" font-size="16.4" fill="#262626" text-anchor="end" style="font-family:'Liberation Sans',sans-serif" transform="translate(86.80,495.00) scale(1.03,1)" >100</text>
<rect x="47.5" y="489.40" width="9.6" height="1.4" fill="#262626"/>
<text x="0" y="0" font-size="16.4" fill="#262626" text-anchor="middle" style="font-family:'Liberation Sans',sans-serif" transform="translate(108.10,552.80) scale(1.02,1)" >575</text>
<text x="0" y="0" font-size="16.4" fill="#262626" text-anchor="middle" style="font-family:'Liberation Sans',sans-serif" transform="translate(168.24,552.80) scale(1.02,1)" >600</text>
<text x="0" y="0" font-size="16.4" fill="#262626" text-anchor="middle" style="font-family:'Liberation Sans',sans-serif" transform="translate(228.38,552.80) scale(1.02,1)" >625</text>
<text x="0" y="0" font-size="16.4" fill="#262626" text-anchor="middle" style="font-family:'Liberation Sans',sans-serif" transform="translate(288.53,552.80) scale(1.02,1)" >650</text>
<text x="0" y="0" font-size="16.4" fill="#262626" text-anchor="middle" style="font-family:'Liberation Sans',sans-serif" transform="translate(348.67,552.80) scale(1.02,1)" >675</text>
<text x="0" y="0" font-size="16.4" fill="#262626" text-anchor="middle" style="font-family:'Liberation Sans',sans-serif" transform="translate(408.81,552.80) scale(1.02,1)" >700</text>
<text x="0" y="0" font-size="16.4" fill="#262626" text-anchor="middle" style="font-family:'Liberation Sans',sans-serif" transform="translate(468.96,552.80) scale(1.02,1)" >725</text>
<text x="0" y="0" font-size="16.4" fill="#262626" text-anchor="middle" style="font-family:'Liberation Sans',sans-serif" transform="translate(529.10,552.80) scale(1.02,1)" >750</text>
<text x="0" y="0" font-size="16.4" fill="#262626" text-anchor="end" style="font-family:'Liberation Sans',sans-serif" transform="translate(581.50,573.00) scale(1.07,1)" >+1.403636e9</text>
<text x="0" y="0" font-size="18.2" fill="#262626" text-anchor="middle" style="font-family:'Liberation Sans',sans-serif" transform="translate(31.8,97.1) rotate(-90) scale(1.04,1)"><tspan font-style="italic">roll</tspan> (deg)</text>
<text x="0" y="0" font-size="18.2" fill="#262626" text-anchor="middle" style="font-family:'Liberation Sans',sans-serif" transform="translate(41.3,274.2) rotate(-90) scale(1.04,1)"><tspan font-style="italic">pitch</tspan> (deg)</text>
<text x="0" y="0" font-size="18.2" fill="#262626" text-anchor="middle" style="font-family:'Liberation Sans',sans-serif" transform="translate(32.2,449.3) rotate(-90) scale(1.04,1)"><tspan font-style="italic">yaw</tspan> (deg)</text>
<text x="0" y="0" font-size="18.2" fill="#262626" text-anchor="middle" style="font-family:'Liberation Sans',sans-serif" transform="translate(341,577.3) scale(1.1,1)"><tspan font-style="italic">t</tspan> (s)</text>
<text x="0" y="0" font-size="8.5" fill="#262626" style="font-family:'Liberation Sans',sans-serif" transform="translate(-0.5,596.7) scale(1.12,1)">euler_angle_sequence: sxyz</text>
</svg></body></html>
